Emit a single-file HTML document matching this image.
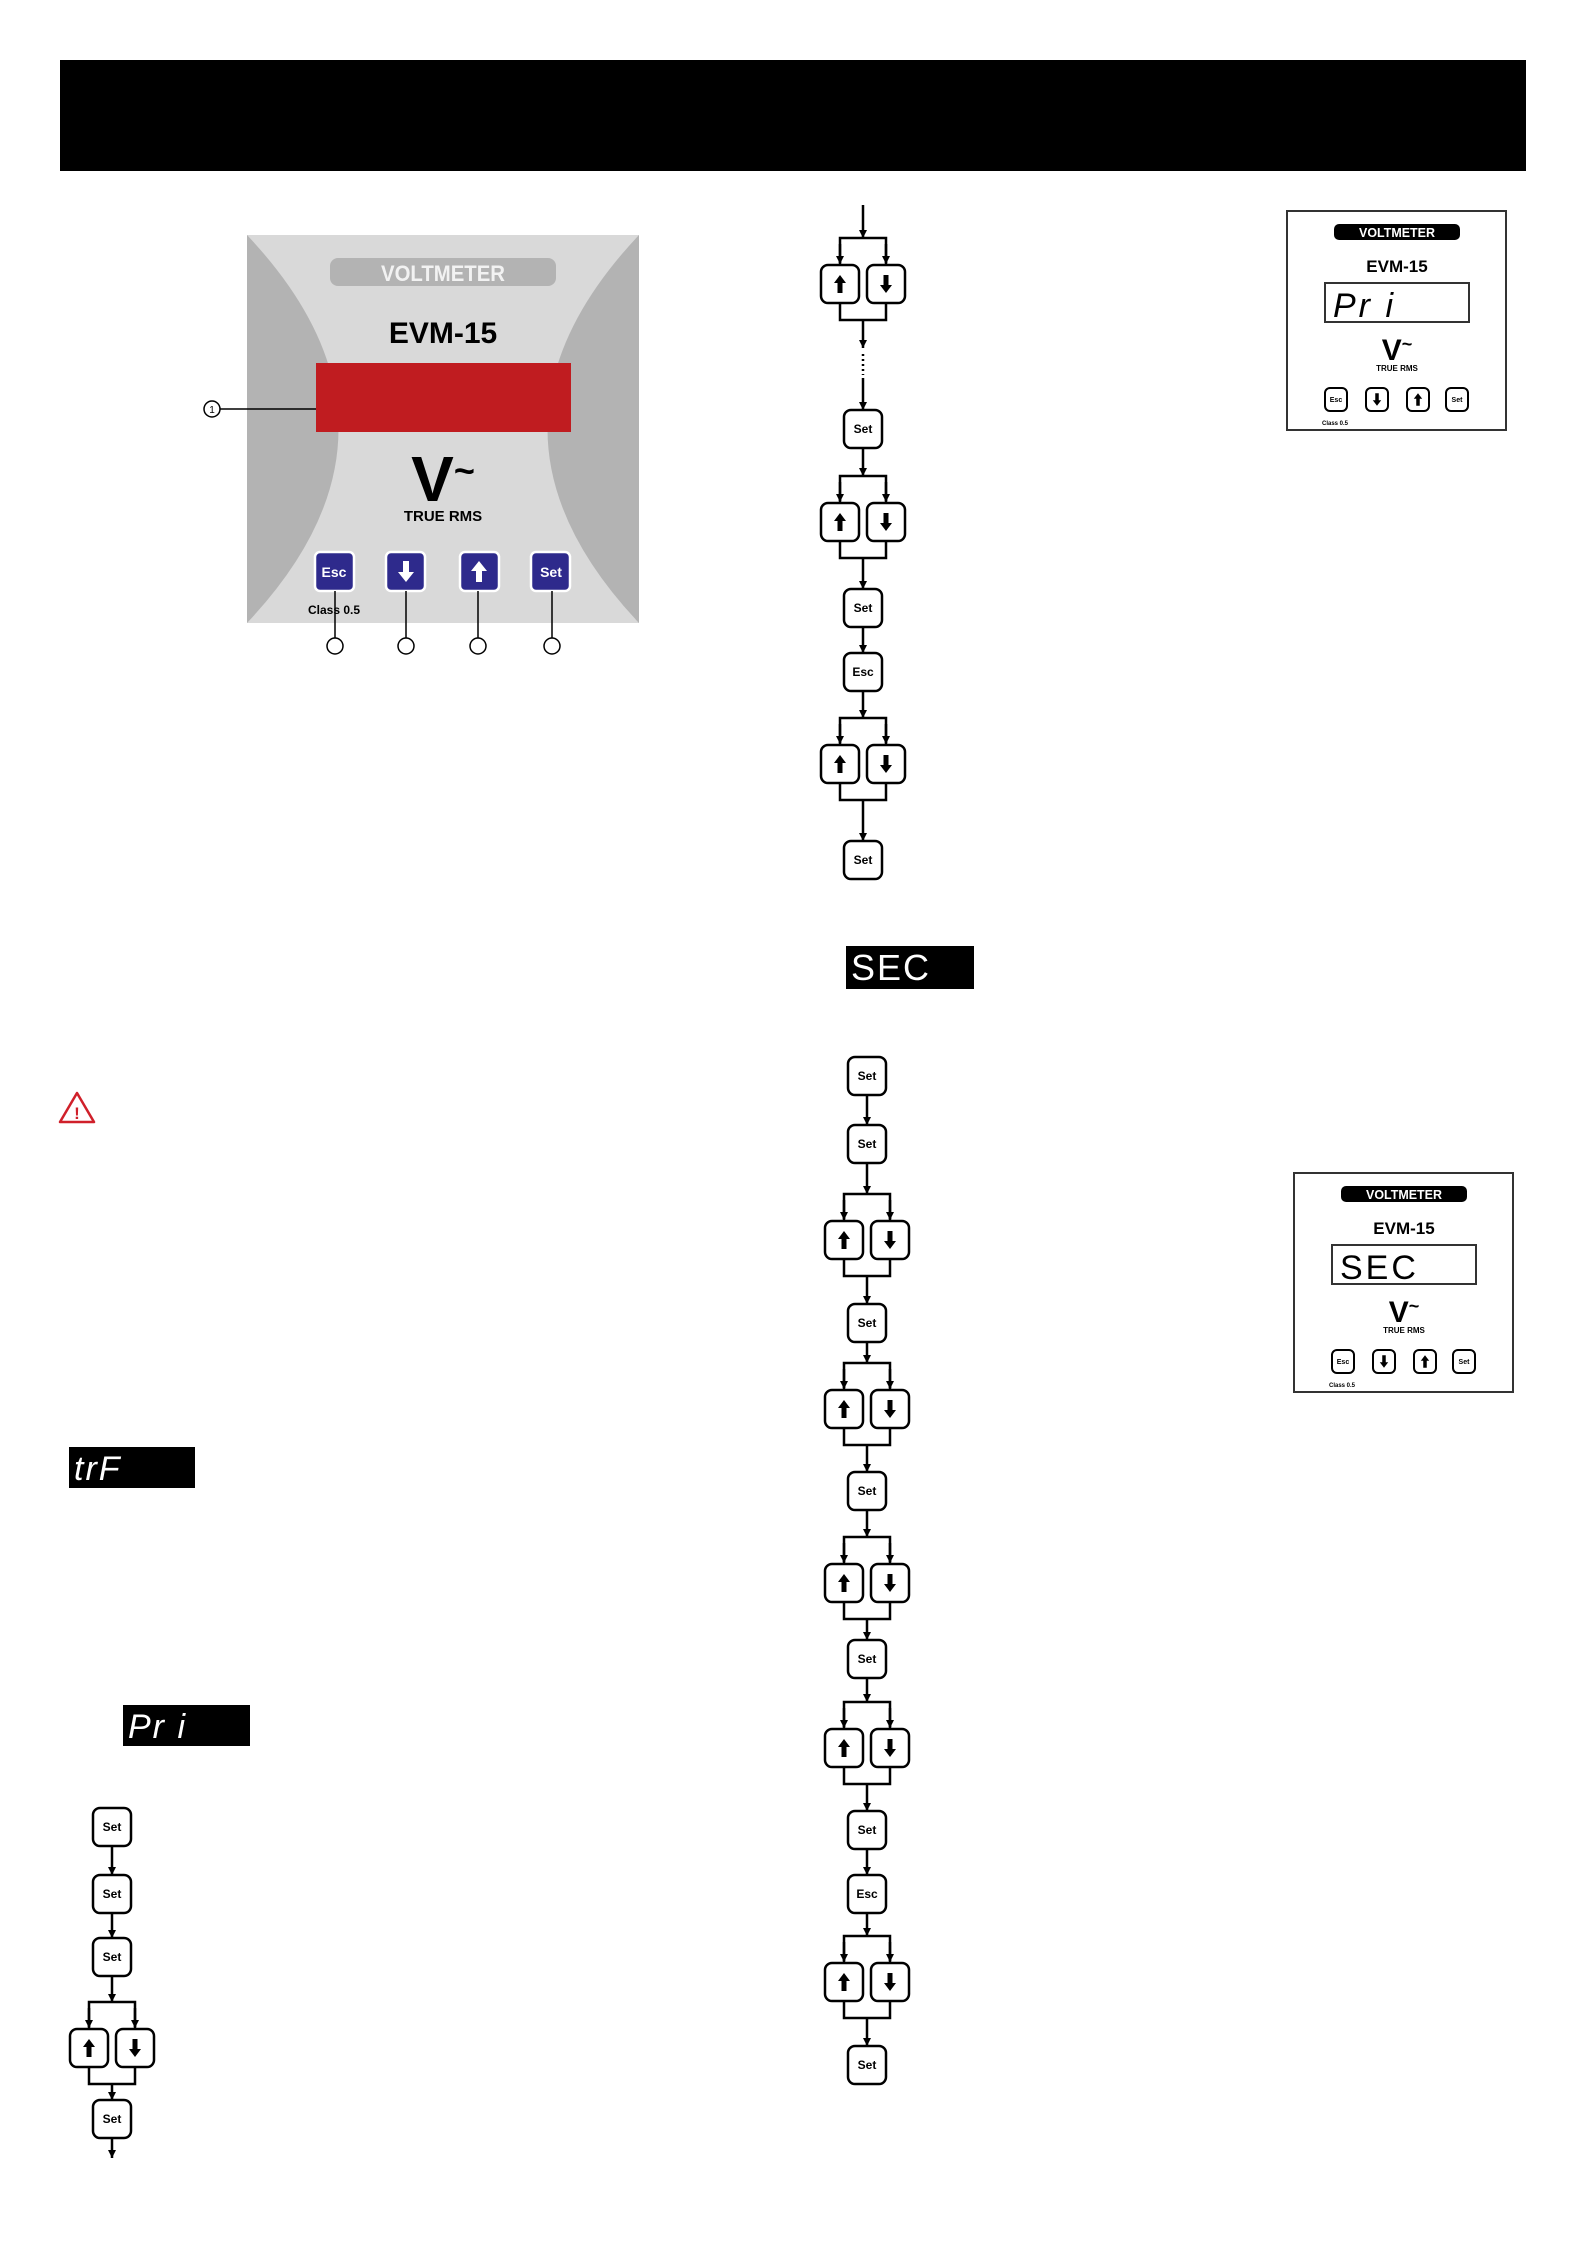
<!DOCTYPE html>
<html><head><meta charset="utf-8"><style>
html,body{margin:0;padding:0;background:#fff}
svg{display:block}
text{font-family:"Liberation Sans",sans-serif}
</style></head><body>
<svg width="1587" height="2245" viewBox="0 0 1587 2245" xmlns="http://www.w3.org/2000/svg">
<defs>
<marker id="a" viewBox="0 0 10 10" refX="10" refY="5" markerWidth="8" markerHeight="9" markerUnits="userSpaceOnUse" orient="auto"><path d="M0,0L10,5L0,10z" fill="#000"/></marker>
<g id="box"><rect x="-19" y="-19" width="38" height="38" rx="7" fill="#fff" stroke="#000" stroke-width="2.5"/></g>
<g id="up"><path d="M0,-9L6,-1L2.5,-1L2.5,9L-2.5,9L-2.5,-1L-6,-1z" fill="#000"/></g>
<g id="dn"><path d="M0,9L6,1L2.5,1L2.5,-9L-2.5,-9L-2.5,1L-6,1z" fill="#000"/></g>
<g id="pair" fill="none" stroke="#000" stroke-width="2.5">
<path d="M-23,-21V-46H23V-21" fill="none"/>
<line x1="-23" y1="-40" x2="-23" y2="-20" marker-end="url(#a)"/>
<line x1="23" y1="-40" x2="23" y2="-20" marker-end="url(#a)"/>
<rect x="-42" y="-19" width="38" height="38" rx="7" fill="#fff"/>
<rect x="4" y="-19" width="38" height="38" rx="7" fill="#fff"/>
<path d="M-23,19V36H23V19"/>
<use href="#up" x="-23" y="0" stroke="none"/>
<use href="#dn" x="23" y="0" stroke="none"/>
</g>
</defs>

<!-- header -->
<rect x="60" y="60" width="1466" height="111" fill="#000"/>

<!-- main device panel -->
<rect x="247" y="235" width="392" height="388" fill="#d9d9d9"/>
<path d="M247,235Q430,429 247,623Z" fill="#b3b3b3"/>
<path d="M639,235Q456,429 639,623Z" fill="#b3b3b3"/>
<rect x="330" y="258" width="226" height="28" rx="8" fill="#b3b3b3"/>
<text x="443" y="281" font-size="22" font-weight="bold" fill="#f2f2f2" text-anchor="middle" textLength="124" lengthAdjust="spacingAndGlyphs">VOLTMETER</text>
<text x="443" y="343" font-size="30" font-weight="bold" text-anchor="middle">EVM-15</text>
<rect x="316" y="363" width="255" height="69" fill="#c01c20"/>
<text x="443" y="501" font-size="64" font-weight="bold" text-anchor="middle">V<tspan font-size="36" dy="-18">~</tspan></text>
<text x="443" y="521" font-size="15" font-weight="bold" text-anchor="middle">TRUE RMS</text>
<g stroke="#fff" stroke-width="2.5" fill="#2e2a8c">
<rect x="315" y="552" width="39" height="39" rx="5"/>
<rect x="386" y="552" width="39" height="39" rx="5"/>
<rect x="460" y="552" width="39" height="39" rx="5"/>
<rect x="531" y="552" width="39" height="39" rx="5"/>
</g>
<text x="334" y="577" font-size="14" font-weight="bold" fill="#fff" text-anchor="middle">Esc</text>
<text x="551" y="577" font-size="14" font-weight="bold" fill="#fff" text-anchor="middle">Set</text>
<path d="M406,561L414,571L409,571L409,582L403,582L403,571L398,571z" transform="rotate(180 406 571.5)" fill="#fff"/>
<path d="M479,561L487,571L482,571L482,582L476,582L476,571L471,571z" fill="#fff"/>
<text x="308" y="614" font-size="12" font-weight="bold">Class 0.5</text>
<g stroke="#000" stroke-width="1.5" fill="#fff">
<line x1="335" y1="591" x2="335" y2="638"/><line x1="406" y1="591" x2="406" y2="638"/>
<line x1="478" y1="591" x2="478" y2="638"/><line x1="552" y1="591" x2="552" y2="638"/>
<circle cx="335" cy="646" r="8"/><circle cx="406" cy="646" r="8"/><circle cx="478" cy="646" r="8"/><circle cx="552" cy="646" r="8"/>
<line x1="220" y1="409" x2="316" y2="409"/>
<circle cx="212" cy="409" r="8"/>
</g>
<text x="212" y="413" font-size="10" text-anchor="middle">1</text>

<!-- warning -->
<path d="M77,1093L94,1122H60Z" fill="none" stroke="#d0202a" stroke-width="2.5" stroke-linejoin="round"/>
<text x="77" y="1119" font-size="17" font-weight="bold" fill="#d0202a" text-anchor="middle">!</text>

<!-- segment displays -->
<rect x="69" y="1447" width="126" height="41" fill="#000"/>
<text x="74" y="1480" font-size="34" fill="#fff" font-family="DejaVu Sans Mono,monospace" font-style="italic" letter-spacing="2">trF</text>
<rect x="123" y="1705" width="127" height="41" fill="#000"/>
<text x="128" y="1738" font-size="34" fill="#fff" font-family="DejaVu Sans Mono,monospace" font-style="italic" letter-spacing="2">Pr i</text>
<rect x="846" y="946" width="128" height="43" fill="#000"/>
<text x="851" y="980" font-size="36" fill="#fff" font-family="DejaVu Sans Mono,monospace" letter-spacing="2">SEC</text>

<!-- small panel 2 -->
<g id="sp">
<rect x="1294" y="1173" width="219" height="219" fill="#fff" stroke="#333" stroke-width="2"/>
<rect x="1341" y="1186" width="126" height="16" rx="5" fill="#000"/>
<text x="1404" y="1199" font-size="13" font-weight="bold" fill="#fff" text-anchor="middle" textLength="76" lengthAdjust="spacingAndGlyphs">VOLTMETER</text>
<text x="1404" y="1234" font-size="17" font-weight="bold" text-anchor="middle">EVM-15</text>
<rect x="1332" y="1245" width="144" height="39" fill="#fff" stroke="#333" stroke-width="2"/>
<text x="1404" y="1322" font-size="30" font-weight="bold" text-anchor="middle">V<tspan font-size="18" dy="-10">~</tspan></text>
<text x="1404" y="1333" font-size="8" font-weight="bold" text-anchor="middle">TRUE RMS</text>
<g fill="#fff" stroke="#000" stroke-width="2">
<rect x="1332" y="1350" width="22" height="23" rx="5"/><rect x="1373" y="1350" width="22" height="23" rx="5"/>
<rect x="1414" y="1350" width="22" height="23" rx="5"/><rect x="1453" y="1350" width="22" height="23" rx="5"/>
</g>
<text x="1343" y="1364" font-size="7" font-weight="bold" text-anchor="middle">Esc</text>
<text x="1464" y="1364" font-size="7" font-weight="bold" text-anchor="middle">Set</text>
<use href="#dn" x="1384" y="1361.5" transform="translate(1384 1361.5) scale(0.7) translate(-1384 -1361.5)"/>
<use href="#up" x="1425" y="1361.5" transform="translate(1425 1361.5) scale(0.7) translate(-1425 -1361.5)"/>
<text x="1329" y="1387" font-size="6" font-weight="bold">Class 0.5</text>
</g>
<text x="1340" y="1279" font-size="34" font-family="DejaVu Sans Mono,monospace" letter-spacing="3">SEC</text>

<!-- small panel 1 -->
<g transform="translate(-7,-962)">
<rect x="1294" y="1173" width="219" height="219" fill="#fff" stroke="#333" stroke-width="2"/>
<rect x="1341" y="1186" width="126" height="16" rx="5" fill="#000"/>
<text x="1404" y="1199" font-size="13" font-weight="bold" fill="#fff" text-anchor="middle" textLength="76" lengthAdjust="spacingAndGlyphs">VOLTMETER</text>
<text x="1404" y="1234" font-size="17" font-weight="bold" text-anchor="middle">EVM-15</text>
<rect x="1332" y="1245" width="144" height="39" fill="#fff" stroke="#333" stroke-width="2"/>
<text x="1404" y="1322" font-size="30" font-weight="bold" text-anchor="middle">V<tspan font-size="18" dy="-10">~</tspan></text>
<text x="1404" y="1333" font-size="8" font-weight="bold" text-anchor="middle">TRUE RMS</text>
<g fill="#fff" stroke="#000" stroke-width="2">
<rect x="1332" y="1350" width="22" height="23" rx="5"/><rect x="1373" y="1350" width="22" height="23" rx="5"/>
<rect x="1414" y="1350" width="22" height="23" rx="5"/><rect x="1453" y="1350" width="22" height="23" rx="5"/>
</g>
<text x="1343" y="1364" font-size="7" font-weight="bold" text-anchor="middle">Esc</text>
<text x="1464" y="1364" font-size="7" font-weight="bold" text-anchor="middle">Set</text>
<use href="#dn" x="1384" y="1361.5" transform="translate(1384 1361.5) scale(0.7) translate(-1384 -1361.5)"/>
<use href="#up" x="1425" y="1361.5" transform="translate(1425 1361.5) scale(0.7) translate(-1425 -1361.5)"/>
<text x="1329" y="1387" font-size="6" font-weight="bold">Class 0.5</text>
<text x="1340" y="1279" font-size="34" font-family="DejaVu Sans Mono,monospace" font-style="italic" letter-spacing="3">Pr i</text>
</g>

<!-- flow 1 cx=863 -->
<g stroke="#000" stroke-width="2.5" fill="none">
<line x1="863" y1="205" x2="863" y2="238" marker-end="url(#a)"/>
<line x1="863" y1="320" x2="863" y2="348" marker-end="url(#a)"/>
<line x1="863" y1="354" x2="863" y2="375" stroke-dasharray="2,3"/>
<line x1="863" y1="378" x2="863" y2="410" marker-end="url(#a)"/>
<line x1="863" y1="448" x2="863" y2="476" marker-end="url(#a)"/>
<line x1="863" y1="558" x2="863" y2="589" marker-end="url(#a)"/>
<line x1="863" y1="627" x2="863" y2="653" marker-end="url(#a)"/>
<line x1="863" y1="691" x2="863" y2="718" marker-end="url(#a)"/>
<line x1="863" y1="800" x2="863" y2="841" marker-end="url(#a)"/>
</g>
<use href="#pair" x="863" y="284"/>
<use href="#pair" x="863" y="522"/>
<use href="#pair" x="863" y="764"/>
<use href="#box" x="863" y="429"/><use href="#box" x="863" y="608"/><use href="#box" x="863" y="672"/><use href="#box" x="863" y="860"/>
<g font-size="12" font-weight="bold" text-anchor="middle">
<text x="863" y="433">Set</text><text x="863" y="612">Set</text><text x="863" y="676">Esc</text><text x="863" y="864">Set</text>
</g>

<!-- flow 2 cx=867 -->
<g stroke="#000" stroke-width="2.5" fill="none">
<line x1="867" y1="1095" x2="867" y2="1125" marker-end="url(#a)"/>
<line x1="867" y1="1163" x2="867" y2="1194" marker-end="url(#a)"/>
<line x1="867" y1="1276" x2="867" y2="1304" marker-end="url(#a)"/>
<line x1="867" y1="1342" x2="867" y2="1363" marker-end="url(#a)"/>
<line x1="867" y1="1445" x2="867" y2="1472" marker-end="url(#a)"/>
<line x1="867" y1="1510" x2="867" y2="1537" marker-end="url(#a)"/>
<line x1="867" y1="1619" x2="867" y2="1640" marker-end="url(#a)"/>
<line x1="867" y1="1678" x2="867" y2="1702" marker-end="url(#a)"/>
<line x1="867" y1="1784" x2="867" y2="1811" marker-end="url(#a)"/>
<line x1="867" y1="1849" x2="867" y2="1875" marker-end="url(#a)"/>
<line x1="867" y1="1913" x2="867" y2="1936" marker-end="url(#a)"/>
<line x1="867" y1="2018" x2="867" y2="2046" marker-end="url(#a)"/>
</g>
<use href="#pair" x="867" y="1240"/><use href="#pair" x="867" y="1409"/><use href="#pair" x="867" y="1583"/><use href="#pair" x="867" y="1748"/><use href="#pair" x="867" y="1982"/>
<use href="#box" x="867" y="1076"/><use href="#box" x="867" y="1144"/><use href="#box" x="867" y="1323"/><use href="#box" x="867" y="1491"/><use href="#box" x="867" y="1659"/><use href="#box" x="867" y="1830"/><use href="#box" x="867" y="1894"/><use href="#box" x="867" y="2065"/>
<g font-size="12" font-weight="bold" text-anchor="middle">
<text x="867" y="1080">Set</text><text x="867" y="1148">Set</text><text x="867" y="1327">Set</text><text x="867" y="1495">Set</text><text x="867" y="1663">Set</text><text x="867" y="1834">Set</text><text x="867" y="1898">Esc</text><text x="867" y="2069">Set</text>
</g>

<!-- left flow cx=112 -->
<g stroke="#000" stroke-width="2.5" fill="none">
<line x1="112" y1="1846" x2="112" y2="1875" marker-end="url(#a)"/>
<line x1="112" y1="1913" x2="112" y2="1938" marker-end="url(#a)"/>
<line x1="112" y1="1976" x2="112" y2="2002" marker-end="url(#a)"/>
<line x1="112" y1="2084" x2="112" y2="2100" marker-end="url(#a)"/>
<line x1="112" y1="2138" x2="112" y2="2158" marker-end="url(#a)"/>
</g>
<use href="#pair" x="112" y="2048"/>
<use href="#box" x="112" y="1827"/><use href="#box" x="112" y="1894"/><use href="#box" x="112" y="1957"/><use href="#box" x="112" y="2119"/>
<g font-size="12" font-weight="bold" text-anchor="middle">
<text x="112" y="1831">Set</text><text x="112" y="1898">Set</text><text x="112" y="1961">Set</text><text x="112" y="2123">Set</text>
</g>
</svg>
</body></html>
